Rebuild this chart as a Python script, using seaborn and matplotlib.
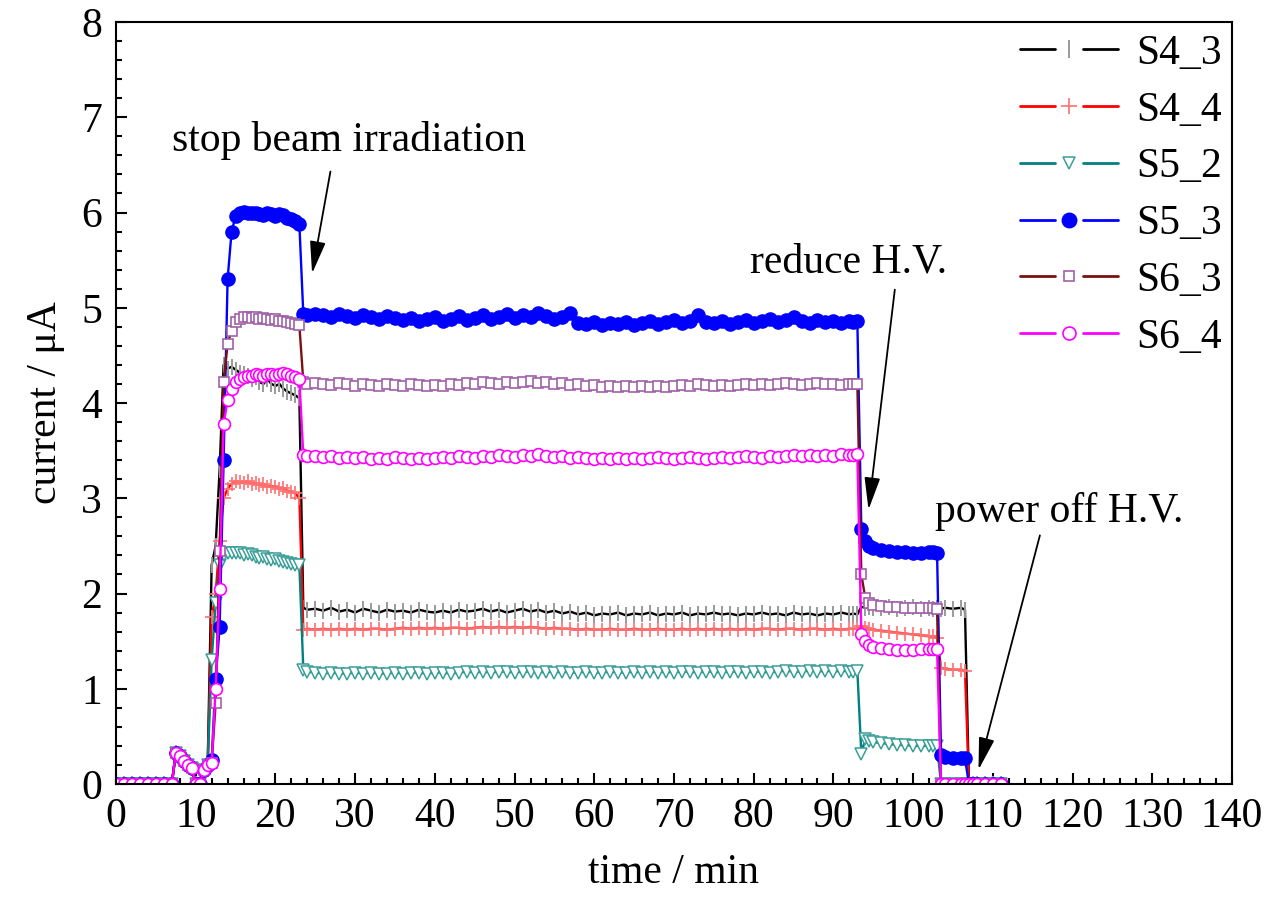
import matplotlib
matplotlib.use("Agg")
import numpy as np
import pandas as pd
import seaborn as sns
import matplotlib.pyplot as plt
from matplotlib.lines import Line2D
from matplotlib.legend_handler import HandlerBase
from matplotlib.ticker import MultipleLocator

# ---------------- data ----------------
t_start = [0, 1, 2, 3, 4, 5, 6, 7]
t_beam = [7.5, 8, 8.5, 9, 9.5, 10, 10.5, 11, 11.5, 12, 12.5, 13, 13.5, 14, 14.5,
          15, 15.5, 16, 16.5, 17, 17.5, 18, 18.5, 19, 19.5, 20, 20.5, 21, 21.5,
          22, 22.5, 23, 23.5, 24]
t_plateau = list(range(25, 93))
t_reduce = [92.5, 93, 93.5, 94, 94.5, 95]
t_low = [96, 97, 98, 99, 100, 101, 102]
t_drop = [102.5, 103, 103.5]
t_end = [104, 105, 106, 106.5, 107, 107.5, 108, 109, 110, 111]
time = t_start + t_beam + t_plateau + t_reduce + t_low + t_drop + t_end

zeros_start = [0, 0, 0, 0, 0, 0, 0, 0]

s4_3 = zeros_start + [
    0.33, 0.29, 0.24, 0.20, 0.17, 0, 0, 0.15, 0.20, 2.30, 2.50, 3.30, 4.40, 4.36, 4.38,
    4.35, 4.32, 4.30, 4.28, 4.25, 4.27, 4.22, 4.20, 4.25, 4.20, 4.18, 4.20, 4.15, 4.12,
    4.10, 4.08, 4.05, 1.85, 1.83] + [
    1.84, 1.82, 1.85, 1.81, 1.83, 1.80, 1.84, 1.82, 1.80, 1.83,
    1.81, 1.82, 1.80, 1.83, 1.81, 1.80, 1.82, 1.80, 1.83, 1.81,
    1.82, 1.84, 1.81, 1.83, 1.80, 1.82, 1.84, 1.81, 1.83, 1.80,
    1.82, 1.79, 1.81, 1.78, 1.80, 1.77, 1.79, 1.78, 1.80, 1.77,
    1.79, 1.78, 1.80, 1.77, 1.79, 1.78, 1.80, 1.77, 1.79, 1.78,
    1.80, 1.78, 1.79, 1.77, 1.79, 1.78, 1.80, 1.78, 1.79, 1.77,
    1.80, 1.78, 1.79, 1.77, 1.79, 1.78, 1.80, 1.78] + [
    1.79, 1.78, 1.86, 1.85, 1.86, 1.85] + [
    1.85, 1.86, 1.84, 1.85, 1.86, 1.84, 1.85] + [
    1.84, 1.85, 1.84] + [
    1.85, 1.84, 1.85, 1.83, 0, 0, 0, 0, 0, 0]

s4_4 = zeros_start + [
    0.33, 0.29, 0.24, 0.20, 0.17, 0, 0, 0.15, 0.20, 1.75, 2.00, 2.55, 3.00, 3.10, 3.15,
    3.18, 3.17, 3.16, 3.18, 3.15, 3.16, 3.14, 3.15, 3.12, 3.13, 3.12, 3.10, 3.11, 3.08,
    3.07, 3.05, 3.00, 1.62, 1.63] + [
    1.62, 1.63, 1.62, 1.63, 1.62, 1.63, 1.62, 1.63, 1.63, 1.62,
    1.63, 1.64, 1.63, 1.64, 1.63, 1.64, 1.63, 1.64, 1.64, 1.63,
    1.64, 1.65, 1.64, 1.65, 1.64, 1.65, 1.64, 1.65, 1.64, 1.63,
    1.64, 1.63, 1.63, 1.62, 1.63, 1.62, 1.62, 1.63, 1.62, 1.62,
    1.63, 1.62, 1.62, 1.63, 1.62, 1.62, 1.63, 1.62, 1.63, 1.62,
    1.63, 1.62, 1.63, 1.62, 1.63, 1.62, 1.63, 1.63, 1.62, 1.63,
    1.63, 1.62, 1.63, 1.63, 1.62, 1.63, 1.62, 1.63] + [
    1.63, 1.63, 1.66, 1.64, 1.63, 1.62] + [
    1.61, 1.60, 1.59, 1.58, 1.57, 1.56, 1.55] + [
    1.55, 1.53, 1.22] + [
    1.21, 1.20, 1.20, 1.19, 0, 0, 0, 0, 0, 0]

s5_2 = zeros_start + [
    0.33, 0.29, 0.24, 0.20, 0.17, 0, 0, 0.15, 0.20, 1.30, 1.90, 2.30, 2.40, 2.42, 2.43,
    2.42, 2.42, 2.40, 2.41, 2.40, 2.38, 2.37, 2.38, 2.36, 2.35, 2.36, 2.34, 2.33, 2.32,
    2.31, 2.30, 2.30, 1.20, 1.18] + [
    1.17, 1.16, 1.17, 1.16, 1.16, 1.17, 1.16, 1.17, 1.16, 1.16,
    1.17, 1.16, 1.17, 1.17, 1.16, 1.17, 1.17, 1.16, 1.17, 1.18,
    1.17, 1.18, 1.17, 1.18, 1.18, 1.17, 1.18, 1.18, 1.17, 1.18,
    1.17, 1.18, 1.17, 1.17, 1.18, 1.17, 1.17, 1.18, 1.17, 1.17,
    1.18, 1.17, 1.18, 1.17, 1.18, 1.17, 1.18, 1.18, 1.17, 1.18,
    1.18, 1.17, 1.18, 1.18, 1.17, 1.18, 1.18, 1.17, 1.18, 1.19,
    1.18, 1.18, 1.19, 1.18, 1.19, 1.18, 1.19, 1.18] + [
    1.18, 1.19, 0.32, 0.47, 0.45, 0.44] + [
    0.43, 0.42, 0.41, 0.41, 0.40, 0.40, 0.40] + [
    0.40, 0.40, 0] + [
    0, 0, 0, 0, 0, 0, 0, 0, 0, 0]

s5_3 = zeros_start + [
    0.33, 0.29, 0.24, 0.20, 0.17, 0, 0, 0.15, 0.20, 0.25, 1.10, 1.65, 3.40, 5.30, 5.80,
    5.96, 6.00, 6.01, 6.00, 5.99, 6.00, 5.98, 5.97, 5.99, 5.98, 5.96, 5.98, 5.97, 5.94,
    5.93, 5.91, 5.88, 4.93, 4.92] + [
    4.93, 4.92, 4.90, 4.93, 4.91, 4.89, 4.92, 4.90, 4.88, 4.91,
    4.89, 4.87, 4.89, 4.86, 4.88, 4.90, 4.86, 4.88, 4.91, 4.87,
    4.89, 4.92, 4.88, 4.90, 4.93, 4.89, 4.92, 4.90, 4.94, 4.91,
    4.88, 4.90, 4.95, 4.84, 4.83, 4.85, 4.82, 4.84, 4.83, 4.85,
    4.82, 4.84, 4.86, 4.83, 4.85, 4.87, 4.84, 4.86, 4.92, 4.85,
    4.84, 4.86, 4.83, 4.85, 4.87, 4.84, 4.86, 4.88, 4.85, 4.87,
    4.90, 4.86, 4.84, 4.87, 4.85, 4.86, 4.84, 4.86] + [
    4.85, 4.86, 2.68, 2.55, 2.50, 2.48] + [
    2.46, 2.45, 2.44, 2.44, 2.43, 2.43, 2.44] + [
    2.44, 2.43, 0.30] + [
    0.28, 0.27, 0.27, 0.27, 0, 0, 0, 0, 0, 0]

s6_3 = zeros_start + [
    0.33, 0.29, 0.24, 0.20, 0.17, 0, 0, 0.15, 0.20, 0.22, 0.85, 2.45, 4.22, 4.62, 4.76,
    4.85, 4.88, 4.90, 4.90, 4.89, 4.90, 4.88, 4.89, 4.88, 4.87, 4.88, 4.86, 4.86, 4.85,
    4.84, 4.83, 4.82, 4.22, 4.20] + [
    4.21, 4.20, 4.19, 4.21, 4.20, 4.18, 4.20, 4.19, 4.18, 4.20,
    4.19, 4.18, 4.20, 4.19, 4.18, 4.19, 4.18, 4.20, 4.19, 4.21,
    4.20, 4.22, 4.21, 4.20, 4.22, 4.21, 4.22, 4.23, 4.21, 4.22,
    4.20, 4.21, 4.19, 4.20, 4.18, 4.19, 4.17, 4.18, 4.17, 4.18,
    4.17, 4.18, 4.17, 4.18, 4.17, 4.18, 4.19, 4.18, 4.20, 4.19,
    4.18, 4.19, 4.18, 4.19, 4.20, 4.19, 4.20, 4.19, 4.20, 4.21,
    4.20, 4.19, 4.20, 4.21, 4.20, 4.20, 4.19, 4.20] + [
    4.20, 4.20, 2.20, 1.95, 1.90, 1.88] + [
    1.87, 1.86, 1.86, 1.85, 1.85, 1.85, 1.85] + [
    1.85, 1.84, 0] + [
    0, 0, 0, 0, 0, 0, 0, 0, 0, 0]

s6_4 = zeros_start + [
    0.33, 0.29, 0.24, 0.20, 0.17, 0, 0, 0.15, 0.20, 0.22, 1.00, 2.05, 3.78, 4.03, 4.15,
    4.22, 4.25, 4.27, 4.28, 4.28, 4.30, 4.29, 4.28, 4.30, 4.30, 4.29, 4.30, 4.31, 4.30,
    4.28, 4.27, 4.25, 3.45, 3.44] + [
    3.44, 3.43, 3.44, 3.42, 3.43, 3.42, 3.43, 3.41, 3.42, 3.41,
    3.43, 3.42, 3.41, 3.42, 3.41, 3.42, 3.43, 3.42, 3.44, 3.43,
    3.42, 3.44, 3.43, 3.45, 3.44, 3.43, 3.45, 3.44, 3.46, 3.44,
    3.43, 3.44, 3.42, 3.43, 3.42, 3.41, 3.42, 3.41, 3.42, 3.41,
    3.42, 3.41, 3.42, 3.43, 3.42, 3.41, 3.42, 3.43, 3.42, 3.41,
    3.42, 3.43, 3.42, 3.43, 3.44, 3.43, 3.42, 3.44, 3.43, 3.44,
    3.45, 3.44, 3.45, 3.44, 3.45, 3.44, 3.46, 3.45] + [
    3.45, 3.46, 1.58, 1.50, 1.46, 1.44] + [
    1.43, 1.42, 1.41, 1.41, 1.41, 1.42, 1.42] + [
    1.42, 1.42, 0] + [
    0, 0, 0, 0, 0, 0, 0, 0, 0, 0]

series_names = ["S4_3", "S4_4", "S5_2", "S5_3", "S6_3", "S6_4"]
series_values = [s4_3, s4_4, s5_2, s5_3, s6_3, s6_4]

# ---------------- style ----------------
sns.set_theme(style="ticks")
plt.rcParams["font.family"] = ["Liberation Serif", "DejaVu Serif"]
plt.rcParams["text.color"] = "black"
plt.rcParams["axes.labelcolor"] = "black"
plt.rcParams["xtick.color"] = "black"
plt.rcParams["ytick.color"] = "black"
plt.rcParams["xtick.labelcolor"] = "black"
plt.rcParams["ytick.labelcolor"] = "black"
FS = 30

styles = {
    "S4_3": dict(color="#000000", marker="|", markersize=12, markerfacecolor="#9a9a9a",
                 mec="#9a9a9a", mew=1.4),
    "S4_4": dict(color="#ff0000", marker="+", markersize=10, markerfacecolor="#ff7070",
                 mec="#ff7070", mew=1.2),
    "S5_2": dict(color="#008080", marker="v", markersize=8.5, markerfacecolor="white",
                 mec="#3a9f98", mew=1.1),
    "S5_3": dict(color="#0000ff", marker="o", markersize=9.5, markerfacecolor="#0000ff",
                 mec="#0000ff", mew=1.0),
    "S6_3": dict(color="#7a1010", marker="s", markersize=7, markerfacecolor="white",
                 mec="#a060a8", mew=1.2),
    "S6_4": dict(color="#ff00ff", marker="o", markersize=8.5, markerfacecolor="white",
                 mec="#ff00ff", mew=1.2),
}

fig = plt.figure(figsize=(12.71, 9.07), dpi=100)
W, H = 1271, 907
ax = fig.add_axes([116 / W, 1 - 784 / H, 1116 / W, 762 / H])

for name, vals in zip(series_names, series_values):
    df = pd.DataFrame({"time": time, "current": vals})
    st = styles[name]
    sns.lineplot(data=df, x="time", y="current", ax=ax, estimator=None, sort=False,
                 color=st["color"], lw=1.7, marker=st["marker"],
                 markersize=st["markersize"], markerfacecolor=st["markerfacecolor"],
                 mec=st["mec"], mew=st["mew"], label=name)

ax.set_xlim(0, 140)
ax.set_ylim(0, 8)
ax.xaxis.set_major_locator(MultipleLocator(10))
ax.xaxis.set_minor_locator(MultipleLocator(2))
ax.yaxis.set_major_locator(MultipleLocator(1))
ax.yaxis.set_minor_locator(MultipleLocator(0.2))
ax.tick_params(which="both", direction="in", top=False, right=False, width=1.5,
               colors="black", labelsize=FS)
ax.tick_params(which="major", length=8, pad=10)
ax.tick_params(which="minor", length=4.5)
for sp in ax.spines.values():
    sp.set_visible(True)
    sp.set_linewidth(1.5)
    sp.set_color("black")
ax.grid(False)

ax.set_xlabel("time / min", fontsize=FS, labelpad=12, color="black")
ax.set_ylabel("current / μA", fontsize=FS, labelpad=12, color="black")


class GapLineHandler(HandlerBase):
    def create_artists(self, legend, orig, xdescent, ydescent, width, height,
                       fontsize, trans):
        y = height / 2 - ydescent
        x0 = -xdescent
        seg = width * 0.36
        kw = dict(color=orig.get_color(), lw=2.0)
        l1 = Line2D([x0, x0 + seg], [y, y], **kw)
        l2 = Line2D([x0 + width - seg, x0 + width], [y, y], **kw)
        m = Line2D([x0 + width / 2], [y], ls="none", marker=orig.get_marker(),
                   markersize=orig.get_markersize() * 1.1,
                   markerfacecolor=orig.get_markerfacecolor(),
                   markeredgecolor=orig.get_markeredgecolor(),
                   markeredgewidth=orig.get_markeredgewidth())
        for a in (l1, l2, m):
            a.set_transform(trans)
        return [l1, l2, m]


handles, labels = ax.get_legend_handles_labels()
leg = ax.legend(handles, labels, handler_map={Line2D: GapLineHandler()},
                loc="upper left", bbox_to_anchor=((1020 - 116) / 1116, 0.984),
                frameon=False, fontsize=FS, handlelength=2.35, handletextpad=0.45,
                labelspacing=0.44, borderpad=0, borderaxespad=0)
for txt in leg.get_texts():
    txt.set_color("black")

arrow_kw = dict(arrowstyle="-|>,head_length=0.9,head_width=0.22", color="black",
                lw=1.3, shrinkA=0, shrinkB=0, mutation_scale=22)

ax.text(7.0, 6.76, "stop beam irradiation", fontsize=FS, va="center", ha="left",
        color="black")
ax.annotate("", xy=(24.6, 5.36), xytext=(26.9, 6.43), arrowprops=arrow_kw)

ax.text(79.5, 5.48, "reduce H.V.", fontsize=FS, va="center", ha="left", color="black")
ax.annotate("", xy=(94.4, 2.88), xytext=(97.7, 5.19), arrowprops=arrow_kw)

ax.text(102.8, 2.86, "power off H.V.", fontsize=FS, va="center", ha="left",
        color="black")
ax.annotate("", xy=(108.2, 0.15), xytext=(115.9, 2.61), arrowprops=arrow_kw)

fig.savefig("out.png", dpi=100)
